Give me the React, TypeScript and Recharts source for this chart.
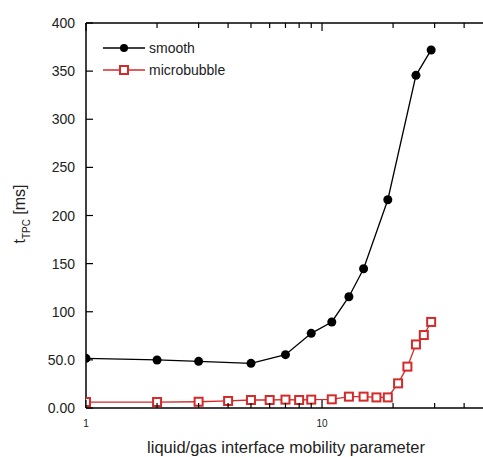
import { Line, LineChart, XAxis, YAxis } from "recharts";

// liquid/gas interface mobility parameter (log axis)
const smoothX = [1, 2, 3, 5, 7, 9, 11, 13, 15, 19, 25, 29];
const smoothT = [51.6, 49.9, 48.5, 46.4, 55.4, 77.6, 89.4, 115.6, 144.7, 216.4, 345.6, 372];

const bubbleX = [1, 2, 3, 4, 5, 6, 7, 8, 9, 11, 13, 15, 17, 19, 21, 23, 25, 27, 29];
const bubbleT = [6.2, 6.2, 6.5, 7.3, 8.3, 8.3, 8.7, 8.3, 8.7, 9, 11.8, 11.8, 11, 11, 25.6, 43, 66, 75.8, 89.4];

const xTicks = [1, 2, 3, 4, 5, 6, 7, 8, 9, 10, 20, 30, 40];
const xLabels = [1, 10];
const yTicks = [0, 50, 100, 150, 200, 250, 300, 350, 400];

const smoothData = smoothX.map((x, i) => ({ x, t: smoothT[i] }));
const bubbleData = bubbleX.map((x, i) => ({ x, t: bubbleT[i] }));

const RED = "#d42a2a";
const FONT = "'Liberation Sans', Arial, sans-serif";
const TEXT = "#222";

const fmtY = (v: number) => (v === 0 ? "0.00" : v === 50 ? "50.0" : String(v));

function BottomTick({ x, y, payload }: any) {
  const v = payload.value;
  const major = xLabels.includes(v);
  return (
    <g>
      <line x1={x} x2={x} y1={y} y2={y - (major ? 8 : 5)} stroke="#000" strokeWidth={1.2} />
      {major && (
        <text x={x} y={y + 19} textAnchor="middle" fontSize={10} fill={TEXT} fontFamily={FONT}>
          {v}
        </text>
      )}
    </g>
  );
}

function TopTick({ x, y, payload }: any) {
  const major = xLabels.includes(payload.value);
  return <line x1={x} x2={x} y1={y} y2={y + (major ? 8 : 5)} stroke="#000" strokeWidth={1.2} />;
}

function LeftTick({ x, y, payload }: any) {
  return (
    <g>
      <line x1={x} x2={x + 7} y1={y} y2={y} stroke="#000" strokeWidth={1.2} />
      <text x={x - 11} y={y} dy={5} textAnchor="end" fontSize={14} fill={TEXT} fontFamily={FONT}>
        {fmtY(payload.value)}
      </text>
    </g>
  );
}

function Square({ cx, cy }: any) {
  if (cx == null || cy == null) return null;
  return <rect x={cx - 4} y={cy - 4} width={8} height={8} fill="#fff" stroke={RED} strokeWidth={2} />;
}

// titles and legend drawn on top of the chart
function Overlay() {
  return (
    <svg width={483} height={457} style={{ position: "absolute", left: 0, top: 0, pointerEvents: "none" }}>
      <text x={25} y={214} transform="rotate(-90, 25, 214)" textAnchor="middle" fontSize={16} fill={TEXT} fontFamily={FONT}>
        <tspan>t</tspan>
        <tspan fontSize={10} dy={5}>TPC</tspan>
        <tspan dy={-5}> [ms]</tspan>
      </text>
      <text x={286} y={453} textAnchor="middle" fontSize={16.5} fill={TEXT} fontFamily={FONT}>
        liquid/gas interface mobility parameter
      </text>
      <g transform="translate(103, 48)">
        <line x1={0} x2={42} y1={0} y2={0} stroke="#000" strokeWidth={1.3} />
        <circle cx={21} cy={0} r={4} fill="#000" />
        <text x={46} y={5} fontSize={14} fill={TEXT} fontFamily={FONT}>smooth</text>
      </g>
      <g transform="translate(103, 70)">
        <line x1={0} x2={42} y1={0} y2={0} stroke={RED} strokeWidth={1.3} />
        <rect x={17} y={-4} width={8} height={8} fill="#fff" stroke={RED} strokeWidth={2} />
        <text x={46} y={5} fontSize={14} fill={TEXT} fontFamily={FONT}>microbubble</text>
      </g>
    </svg>
  );
}

export default function App() {
  return (
    <div style={{ position: "absolute", left: 0, top: 0, width: 483, height: 457, overflow: "hidden", background: "#fff" }}>
      <LineChart width={500} height={457} margin={{ top: 22, right: 13, bottom: 0, left: 26 }}>
        <XAxis xAxisId="bottom" dataKey="x" type="number" scale="log" domain={[1, 50]} allowDataOverflow ticks={xTicks} interval={0} height={49} tickSize={0} tickMargin={0} tickLine={false} tick={<BottomTick />} axisLine={{ stroke: "#000", strokeWidth: 1.5 }} />
        <XAxis xAxisId="top" orientation="top" dataKey="x" type="number" scale="log" domain={[1, 50]} allowDataOverflow ticks={xTicks} interval={0} height={1} tickSize={0} tickMargin={0} tickLine={false} tick={<TopTick />} axisLine={{ stroke: "#000", strokeWidth: 1.5 }} />
        <YAxis yAxisId="left" type="number" domain={[0, 400]} ticks={yTicks} interval={0} width={60} tickSize={0} tickMargin={0} tickLine={false} tick={<LeftTick />} axisLine={{ stroke: "#000", strokeWidth: 1.5 }} />
        <Line
          xAxisId="bottom"
          yAxisId="left"
          data={smoothData}
          dataKey="t"
          stroke="#000"
          strokeWidth={1.3}
          dot={{ r: 4.5, fill: "#000", stroke: "#000", strokeWidth: 0 }}
          isAnimationActive={false}
        />
        <Line
          xAxisId="bottom"
          yAxisId="left"
          data={bubbleData}
          dataKey="t"
          stroke={RED}
          strokeWidth={1.3}
          dot={<Square />}
          isAnimationActive={false}
        />
      </LineChart>
      <Overlay />
    </div>
  );
}
